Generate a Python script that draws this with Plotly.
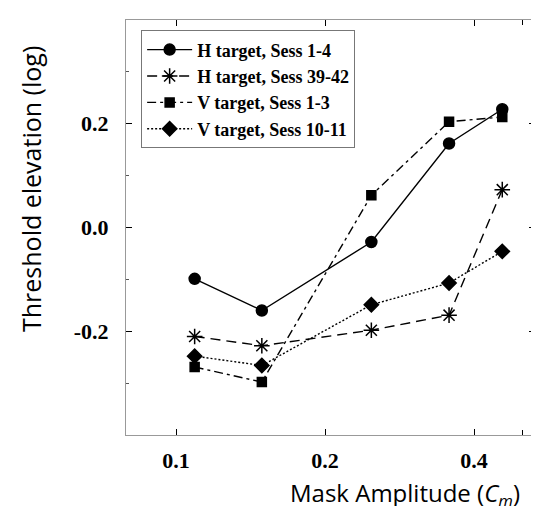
import math
import plotly.graph_objects as go

mask_amp = [0.109, 0.149, 0.248, 0.356, 0.456]
h_sess_1_4 = [-0.099, -0.160, -0.028, 0.162, 0.228]
h_sess_39_42 = [-0.210, -0.228, -0.198, -0.169, 0.073]
v_sess_1_3 = [-0.269, -0.298, 0.062, 0.204, 0.213]
v_sess_10_11 = [-0.248, -0.266, -0.149, -0.107, -0.046]

series_names = ['H target, Sess 1-4', 'H target, Sess 39-42', 'V target, Sess 1-3', 'V target, Sess 10-11']
x_ticks = [0.1, 0.2, 0.4]
y_ticks = [-0.2, 0.0, 0.2]

styles = [
    dict(dash='solid', symbol='circle', size=11),
    dict(dash='10px,6px', symbol='asterisk-open', size=13),
    dict(dash='9px,4px,3px,4px', symbol='square', size=9),
    dict(dash='2px,2px', symbol='diamond', size=11),
]

fig = go.Figure()
for name, ys, st in zip(series_names, [h_sess_1_4, h_sess_39_42, v_sess_1_3, v_sess_10_11], styles):
    fig.add_trace(go.Scatter(
        x=mask_amp, y=ys, name='<b>' + name + '</b>', mode='lines+markers',
        line=dict(color='black', width=1.4, dash=st['dash']),
        marker=dict(symbol=st['symbol'], size=st['size'], color='black',
                    line=dict(color='black', width=1.5)),
    ))

serif = 'Liberation Serif'
sans = 'Open Sans'

fig.update_layout(
    width=539, height=506,
    margin=dict(l=118, r=12, t=12, b=79),
    paper_bgcolor='white', plot_bgcolor='white',
    showlegend=True,
    legend=dict(x=0.037, y=0.975, xanchor='left', yanchor='top',
                bordercolor='#777', borderwidth=1, bgcolor='white',
                font=dict(family=serif, size=18, color='black'),
                tracegroupgap=0, itemwidth=45),
    xaxis=dict(type='log', range=[math.log10(0.0792), math.log10(0.531)],
               tickvals=x_ticks, ticktext=['<b>%.1f</b>' % v for v in x_ticks],
               ticks='inside', ticklen=6, tickcolor='black',
               showline=True, linecolor='#999', linewidth=1, mirror='ticks',
               showgrid=False, zeroline=False, ticklabelstandoff=6,
               minor=dict(tickvals=[0.5], ticks='inside', ticklen=5, tickcolor='black'),
               tickfont=dict(family=serif, size=22, color='black')),
    yaxis=dict(range=[-0.4, 0.4],
               tickvals=y_ticks, ticktext=['<b>%.1f</b>' % v for v in y_ticks],
               ticks='inside', ticklen=6, tickcolor='black',
               showline=True, linecolor='#999', linewidth=1, mirror='ticks',
               showgrid=False, zeroline=False, ticklabelstandoff=12,
               minor=dict(dtick=0.1, ticks='inside', ticklen=3, tickcolor='#555'),
               tickfont=dict(family=serif, size=22, color='black')),
    annotations=[
        dict(text='Threshold elevation (log)', xref='paper', yref='paper',
             x=-0.232, y=0.593, xanchor='center', yanchor='middle', textangle=-90,
             showarrow=False, font=dict(family=sans, size=25, color='black')),
        dict(text='Mask Amplitude (<i>C<sub>m</sub></i>)', xref='paper', yref='paper',
             x=0.396, y=-0.142, xanchor='left', yanchor='middle',
             showarrow=False, font=dict(family=sans, size=24, color='black')),
    ],
)

fig.write_html("out.html")
